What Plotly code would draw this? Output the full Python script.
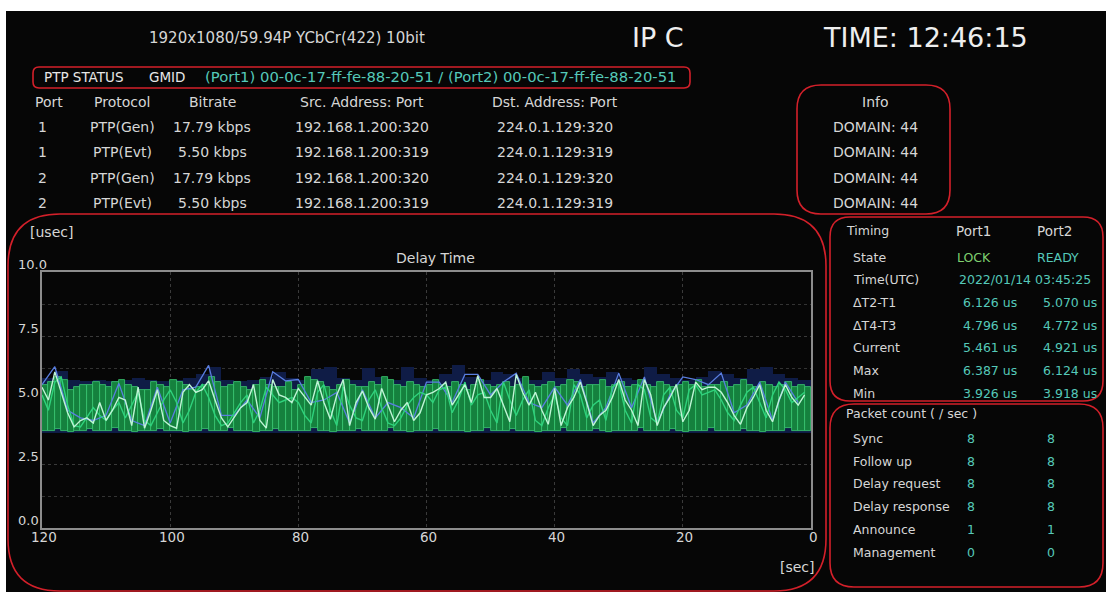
import plotly.graph_objects as go

W, H = 1106, 592

# ---------------- data ----------------
header_format = "1920x1080/59.94P YCbCr(422) 10bit"
header_input = "IP C"
header_time = "TIME: 12:46:15"
status_label = "PTP STATUS"
gmid_label = "GMID"
gmid_value = "(Port1) 00-0c-17-ff-fe-88-20-51 / (Port2) 00-0c-17-ff-fe-88-20-51"

table_cols = ["Port", "Protocol", "Bitrate", "Src. Address: Port", "Dst. Address: Port"]
ports = ["1", "1", "2", "2"]
protocols = ["PTP(Gen)", "PTP(Evt)", "PTP(Gen)", "PTP(Evt)"]
bitrates = ["17.79 kbps", "5.50 kbps", "17.79 kbps", "5.50 kbps"]
src_addr = ["192.168.1.200:320", "192.168.1.200:319", "192.168.1.200:320", "192.168.1.200:319"]
dst_addr = ["224.0.1.129:320", "224.0.1.129:319", "224.0.1.129:320", "224.0.1.129:319"]
info_title = "Info"
domains = ["DOMAIN: 44", "DOMAIN: 44", "DOMAIN: 44", "DOMAIN: 44"]

timing_labels = ["State", "Time(UTC)", "ΔT2-T1", "ΔT4-T3", "Current", "Max", "Min"]
timing_port1 = ["LOCK", None, "6.126 us", "4.796 us", "5.461 us", "6.387 us", "3.926 us"]
timing_port2 = ["READY", None, "5.070 us", "4.772 us", "4.921 us", "6.124 us", "3.918 us"]
timing_utc = "2022/01/14 03:45:25"

packet_labels = ["Sync", "Follow up", "Delay request", "Delay response", "Announce", "Management"]
packet_port1 = ["8", "8", "8", "8", "1", "0"]
packet_port2 = ["8", "8", "8", "8", "1", "0"]

# Delay time chart (x = seconds ago, 120 -> 1)
line_secs = list(range(120, 0, -1))
pale_line = [
    5.5, 5.0, 6.1, 5.3, 4.5, 3.95, 4.2, 4.3, 4.1, 4.9,
    4.2, 4.6, 5.1, 5.0, 4.0, 5.5, 3.9, 4.6, 5.4, 4.2,
    4.0, 3.9, 5.3, 5.6, 5.3, 5.4, 5.75, 5.0, 4.3, 3.95,
    4.3, 4.7, 4.9, 5.6, 4.2, 3.9, 5.8, 5.2, 5.1, 4.9,
    5.45, 5.1, 4.8, 5.75, 4.9, 4.25, 5.2, 5.8, 4.0, 4.9,
    5.35, 4.7, 4.25, 5.45, 4.8, 4.15, 4.6, 4.9, 4.2, 4.5,
    5.2, 5.3, 5.45, 5.7, 4.8, 5.2, 5.6, 4.9, 5.95, 5.1,
    5.1, 5.45, 4.8, 4.15, 6.0, 5.3, 4.8, 5.3, 4.6, 4.05,
    5.45, 4.0, 4.7, 5.1, 5.7, 4.9, 4.0, 4.4, 4.6, 5.1,
    5.8, 5.0, 4.6, 4.0, 5.8, 5.2, 4.0, 4.7, 5.1, 5.6,
    4.15, 4.6, 5.7, 5.4, 5.5, 5.5, 5.3, 4.9, 4.4, 4.05,
    4.7, 5.1, 5.6, 4.6, 4.15, 5.0, 5.6, 5.1, 4.8, 5.2,
]
green_line = [
    5.2, 4.6, 5.7, 5.9, 4.8, 4.0, 3.95, 4.3, 4.7, 4.4,
    4.2, 4.6, 4.9, 4.3, 4.8, 5.3, 4.2, 4.0, 4.5, 5.0,
    5.4, 4.9, 4.1, 4.6, 5.3, 5.6, 5.1, 4.4, 4.0, 4.1,
    4.5, 4.9, 5.2, 4.1, 4.6, 5.5, 5.2, 4.9, 5.0, 5.1,
    4.9, 4.4, 4.1, 5.3, 5.6, 4.6, 4.0, 5.5, 4.8, 4.3,
    4.2, 5.0, 5.4, 4.7, 4.1, 4.0, 4.3, 4.8, 5.1, 5.3,
    5.2, 4.9, 5.4, 5.5, 4.5, 5.0, 5.7, 4.8, 5.2, 5.3,
    4.6, 4.1, 5.7, 5.0, 4.4, 5.0, 5.4, 4.2, 4.0, 4.7,
    5.2, 4.3, 4.0, 5.6, 5.2, 4.3, 4.8, 5.0, 4.2, 5.5,
    5.7, 4.6, 4.1, 5.6, 5.4, 4.3, 4.1, 5.2, 5.5, 4.6,
    4.3, 5.4, 5.6, 5.2, 5.3, 5.4, 5.0, 4.5, 4.2, 4.8,
    5.3, 5.5, 4.9, 4.3, 5.2, 5.7, 5.4, 4.9, 5.1, 5.3,
]
blue_secs = list(range(120, 0, -2))
blue_line = [
    5.6, 6.3, 4.6, 4.3, 4.2, 4.4, 5.65, 4.2, 4.0, 5.5,
    4.1, 5.4, 5.5, 6.35, 4.4, 4.4, 5.0, 4.3, 6.1, 5.75,
    5.8, 4.9, 5.0, 5.3, 4.1, 5.4, 4.3, 4.9, 4.7, 4.3,
    5.7, 5.7, 4.9, 6.0, 6.0, 5.2, 5.7, 6.05, 4.9, 4.7,
    5.5, 4.8, 5.8, 4.1, 4.7, 6.05, 4.7, 5.9, 4.1, 5.2,
    5.9, 5.8, 5.6, 6.05, 4.5, 4.8, 5.7, 4.2, 5.7, 4.9,
]

green_bar_secs = [s - 0.5 for s in range(120, 0, -1)]
green_bar_top = [
    5.6, 5.7, 5.9, 5.8, 5.4, 5.5, 5.6, 5.6, 5.7, 5.6,
    5.5, 5.7, 5.8, 5.6, 5.5, 5.4, 5.4, 5.7, 5.6, 5.5,
    5.8, 5.7, 5.6, 5.4, 5.5, 5.6, 5.9, 5.7, 5.5, 5.6,
    5.7, 5.5, 5.4, 5.6, 5.8, 5.6, 5.5, 5.5, 5.7, 5.4,
    5.6, 5.9, 5.8, 5.7, 5.5, 5.4, 5.6, 5.8, 5.6, 5.5,
    5.5, 5.7, 5.6, 5.9, 5.8, 5.6, 5.5, 5.7, 5.6, 5.5,
    5.6, 5.8, 5.6, 5.5, 5.7, 5.6, 5.4, 5.6, 5.8, 5.6,
    5.5, 5.6, 5.7, 5.5, 5.6, 5.9, 5.6, 5.5, 5.6, 5.7,
    5.5, 5.6, 5.8, 5.7, 5.5, 5.6, 5.6, 5.8, 5.5, 5.6,
    5.7, 5.5, 5.6, 5.8, 5.6, 5.5, 5.7, 5.6, 5.5, 5.6,
    5.7, 5.6, 5.8, 5.5, 5.6, 5.6, 5.7, 5.5, 5.6, 5.8,
    5.6, 5.5, 5.7, 5.6, 5.5, 5.6, 5.7, 5.5, 5.6, 5.5,
]
green_bar_base = [
    3.8, 3.8, 3.85, 3.8, 3.75, 3.8, 3.8, 3.85, 3.8, 3.8,
    3.8, 3.9, 3.8, 3.8, 3.75, 3.8, 3.8, 3.8, 3.85, 3.8,
    3.8, 3.8, 3.75, 3.8, 3.8, 3.85, 3.8, 3.8, 3.8, 3.9,
    3.8, 3.8, 3.8, 3.75, 3.8, 3.8, 3.85, 3.8, 3.8, 3.8,
    3.8, 3.8, 3.9, 3.8, 3.8, 3.75, 3.8, 3.8, 3.8, 3.85,
    3.8, 3.8, 3.8, 3.8, 3.9, 3.8, 3.8, 3.75, 3.8, 3.8,
    3.8, 3.85, 3.8, 3.8, 3.8, 3.8, 3.75, 3.8, 3.8, 3.9,
    3.8, 3.8, 3.8, 3.85, 3.8, 3.8, 3.8, 3.75, 3.8, 3.8,
    3.8, 3.9, 3.8, 3.8, 3.8, 3.8, 3.85, 3.8, 3.75, 3.8,
    3.8, 3.8, 3.8, 3.9, 3.8, 3.8, 3.8, 3.8, 3.85, 3.8,
    3.75, 3.8, 3.8, 3.8, 3.9, 3.8, 3.8, 3.8, 3.8, 3.85,
    3.8, 3.8, 3.75, 3.8, 3.8, 3.8, 3.9, 3.8, 3.8, 3.8,
]
blue_bar_secs = [s - 1 for s in range(120, 0, -2)]
blue_bar_top = [
    5.85, 6.15, 5.8, 5.75, 5.8, 5.75, 5.8, 5.85, 5.8, 5.75,
    5.8, 5.85, 6.0, 6.3, 5.8, 5.75, 5.8, 5.9, 6.1, 5.85,
    5.8, 6.2, 6.3, 5.85, 5.8, 6.25, 5.9, 5.8, 6.3, 5.85,
    5.8, 6.0, 6.35, 5.9, 5.8, 6.1, 6.0, 5.85, 5.8, 6.1,
    5.85, 6.2, 6.0, 5.9, 6.1, 5.85, 5.8, 6.3, 6.0, 5.85,
    5.8, 5.9, 6.15, 6.0, 5.85, 6.2, 6.3, 6.0, 5.85, 5.8,
]
blue_bar_base = 3.72

x_ticks = [120, 100, 80, 60, 40, 20, 0]
y_ticks = [0.0, 2.5, 5.0, 7.5, 10.0]

# ---------------- styling helpers ----------------
FONT = "DejaVu Sans, Noto Sans, sans-serif"
TXT = "#d6d6d6"
TEAL = "#55c9b9"
GREEN_TXT = "#7fd06f"
RED = "#d3202a"


def px(x):
    return x / W


def py(y):
    return 1 - y / H


annotations = []


def text(x, y, s, size=14, color=TXT, anchor="center"):
    annotations.append(dict(
        x=px(x), y=py(y), xref="paper", yref="paper", text=s, showarrow=False,
        xanchor=anchor, yanchor="middle", font=dict(family=FONT, size=size, color=color)))


def rrect(x0, y0, x1, y1, r):
    X0, X1 = px(x0), px(x1)
    Y0, Y1 = py(y0), py(y1)
    rx, ry = r / W, r / H
    return (f"M {X0+rx},{Y0} L {X1-rx},{Y0} Q {X1},{Y0} {X1},{Y0-ry} "
            f"L {X1},{Y1+ry} Q {X1},{Y1} {X1-rx},{Y1} L {X0+rx},{Y1} "
            f"Q {X0},{Y1} {X0},{Y1+ry} L {X0},{Y0-ry} Q {X0},{Y0} {X0+rx},{Y0} Z")


shapes = [
    dict(type="rect", xref="paper", yref="paper", x0=px(6), x1=1, y0=0, y1=py(11),
         fillcolor="#060606", line=dict(width=0), layer="below"),
]
for (x0, y0, x1, y1, r) in [(33, 67, 690, 88, 6), (797, 85, 950, 214, 24),
                            (8, 214, 826, 591, 52), (830, 217, 1103, 401, 20),
                            (830, 404, 1103, 587, 24)]:
    shapes.append(dict(type="path", xref="paper", yref="paper", path=rrect(x0, y0, x1, y1, r),
                       line=dict(color=RED, width=1.6), fillcolor="rgba(0,0,0,0)"))

# ---------------- header ----------------
text(287, 38, header_format, size=15)
text(658, 38, header_input, size=27, color="#eeeeee")
text(925, 38, header_time, size=27, color="#eeeeee")
text(42, 77, status_label, size=13.5, color="#e6e6e6", anchor="left")
text(147, 77, gmid_label, size=13.5, color="#e6e6e6", anchor="left")
text(203, 77, gmid_value, size=14.8, color=TEAL, anchor="left")

# ---------------- table ----------------
col_x = [49, 122, 212, 362, 555]
row_y = [127, 152, 178, 203]
for cx, name in zip(col_x, table_cols):
    text(cx, 102, name)
for i, ry in enumerate(row_y):
    text(col_x[0] - 7, ry, ports[i])
    text(col_x[1], ry, protocols[i])
    text(col_x[2], ry, bitrates[i])
    text(col_x[3], ry, src_addr[i])
    text(col_x[4], ry, dst_addr[i])
text(875, 102, info_title)
for ry, d in zip(row_y, domains):
    text(875, ry, d)

# ---------------- timing panel ----------------
text(844, 231, "Timing", size=12.5, anchor="left")
text(973, 231, "Port1", size=13.5)
text(1054, 231, "Port2", size=13.5)
t_rows = [257, 279, 302, 325, 347, 370, 393]
for i, ry in enumerate(t_rows):
    text(851, ry, timing_labels[i], size=12.5, anchor="left")
    if i == 0:
        text(974, ry, timing_port1[i], size=12.5, color=GREEN_TXT)
        text(1058, ry, timing_port2[i], size=12.5, color=TEAL)
    elif i == 1:
        text(1025, ry, timing_utc, size=12.5, color=TEAL)
    else:
        text(990, ry, timing_port1[i], size=12.5, color=TEAL)
        text(1070, ry, timing_port2[i], size=12.5, color=TEAL)

# ---------------- packet panel ----------------
text(844, 413, "Packet count ( / sec )", size=12.5, anchor="left")
p_rows = [438, 461, 483, 506, 529, 552]
for i, ry in enumerate(p_rows):
    text(851, ry, packet_labels[i], size=12.5, anchor="left")
    text(971, ry, packet_port1[i], size=12.5, color=TEAL)
    text(1051, ry, packet_port2[i], size=12.5, color=TEAL)

# ---------------- chart labels ----------------
text(28, 232, "[usec]", size=14, anchor="left")
text(435, 258, "Delay Time", size=14)
text(797, 567, "[sec]", size=14)
for v in y_ticks:
    annotations.append(dict(x=px(16), y=v, xref="paper", yref="y", text=f"{v:.1f}",
                            showarrow=False, xanchor="left", yanchor="bottom", yshift=-2,
                            font=dict(family=FONT, size=13, color=TXT)))
for v in x_ticks:
    annotations.append(dict(x=v, y=py(537), xref="x", yref="paper", text=str(v),
                            showarrow=False, xanchor="center", yanchor="middle", xshift=2,
                            font=dict(family=FONT, size=13.5, color=TXT)))

# ---------------- traces ----------------
fig = go.Figure()
fig.add_trace(go.Bar(x=blue_bar_secs, y=[t - blue_bar_base for t in blue_bar_top], base=blue_bar_base,
                     width=2, marker=dict(color="#0f1c46", line=dict(width=0)), hoverinfo="skip"))
fig.add_trace(go.Bar(x=green_bar_secs, y=[t - b for t, b in zip(green_bar_top, green_bar_base)],
                     base=green_bar_base, width=1,
                     marker=dict(color="rgba(22,135,62,0.95)", line=dict(color="#3cc873", width=0.8)),
                     hoverinfo="skip"))
fig.add_trace(go.Scatter(x=blue_secs, y=blue_line, mode="lines",
                         line=dict(color="#5a7ee0", width=1.3)))
fig.add_trace(go.Scatter(x=line_secs, y=green_line, mode="lines",
                         line=dict(color="#2fd27c", width=1.4)))
fig.add_trace(go.Scatter(x=line_secs, y=pale_line, mode="lines",
                         line=dict(color="#bff5d6", width=1.4)))

fig.update_layout(
    width=W, height=H, autosize=False,
    margin=dict(l=0, r=0, t=0, b=0, pad=0, autoexpand=False),
    paper_bgcolor="#ffffff", plot_bgcolor="#0b0b0b",
    showlegend=False, barmode="overlay", bargap=0,
    shapes=shapes, annotations=annotations,
    xaxis=dict(domain=[px(42), px(811)], range=[120, 0], tickvals=x_ticks,
               showticklabels=False, automargin=False,
               showgrid=True, gridcolor="#3a3a3a", griddash="dot", gridwidth=1,
               showline=True, mirror=True, linecolor="#8c8c8c", linewidth=1.5,
               zeroline=False, ticks="", fixedrange=True),
    yaxis=dict(domain=[py(528), py(272)], range=[0, 10], tickvals=y_ticks,
               showticklabels=False, automargin=False,
               showgrid=True, gridcolor="#3a3a3a", griddash="dot", gridwidth=1,
               minor=dict(dtick=1.25, tick0=0, showgrid=True, gridcolor="#333333", griddash="dot"),
               showline=True, mirror=True, linecolor="#8c8c8c", linewidth=1.5,
               zeroline=False, ticks="", fixedrange=True),
)

fig.write_html("out.html", config={"displayModeBar": False},
               post_script="document.body.style.margin='0';document.body.style.overflow='hidden';")
